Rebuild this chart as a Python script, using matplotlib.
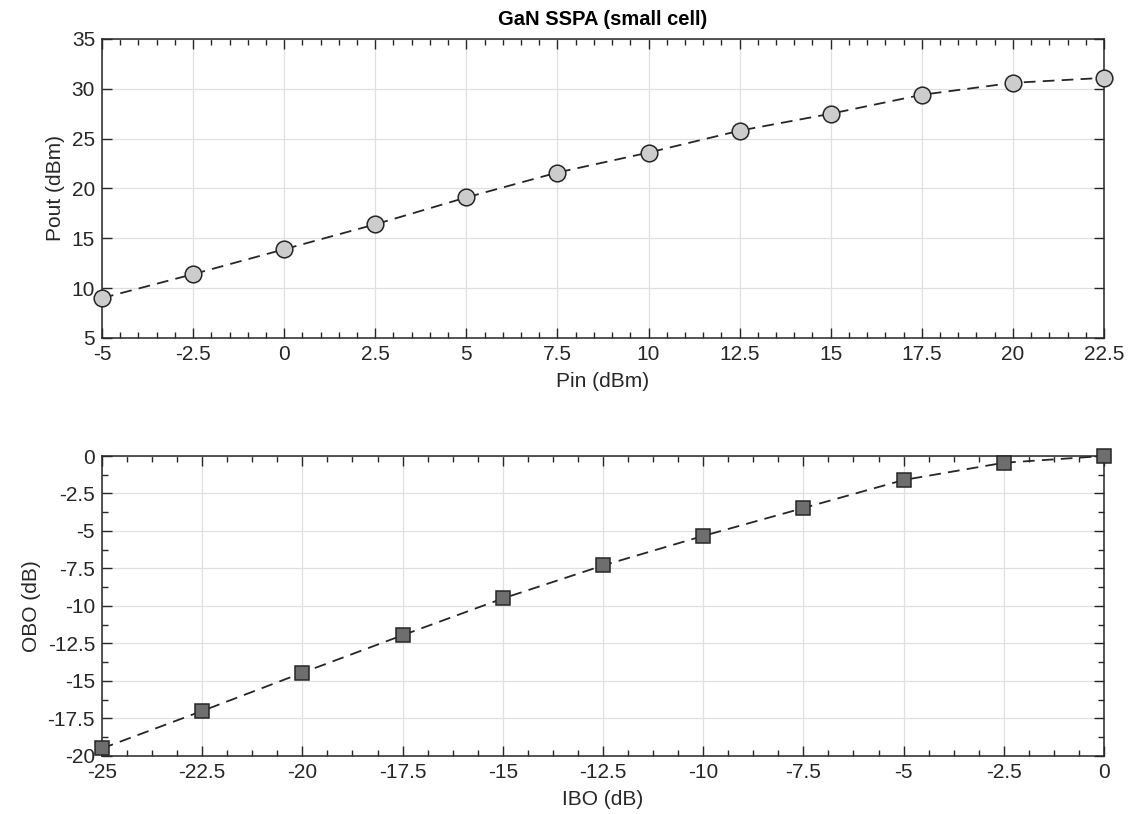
import numpy as np
import matplotlib.pyplot as plt
from matplotlib.ticker import MultipleLocator

plt.rcParams['font.family'] = ['Liberation Sans', 'DejaVu Sans']

pin = [-5, -2.5, 0, 2.5, 5, 7.5, 10, 12.5, 15, 17.5, 20, 22.5]
pout = [9.0, 11.4, 13.9, 16.4, 19.1, 21.6, 23.6, 25.8, 27.5, 29.4, 30.6, 31.1]

ibo = [-25, -22.5, -20, -17.5, -15, -12.5, -10, -7.5, -5, -2.5, 0]
obo = [-19.5, -17.0, -14.45, -11.95, -9.5, -7.3, -5.33, -3.47, -1.6, -0.45, 0.0]

fig = plt.figure(figsize=(11.33, 8.14), dpi=100)
ax1 = fig.add_axes([0.09, 0.5848, 0.8844, 0.3673])
ax2 = fig.add_axes([0.09, 0.0713, 0.8844, 0.3685])


def style(ax):
    ax.grid(True, which='major', color='#e0e0e0', linewidth=0.9)
    ax.set_axisbelow(True)
    ax.tick_params(which='both', direction='in', top=True, right=True,
                   labelsize=15, colors='#262626', pad=5)
    ax.tick_params(which='major', length=7, width=1)
    ax.tick_params(which='minor', length=4, width=1)
    for s in ax.spines.values():
        s.set_color('#262626')
        s.set_linewidth(1.1)


ax1.plot(pin, pout, '--', color='#262626', linewidth=1.3, dashes=(6.5, 4),
         marker='o', markersize=12, markerfacecolor='#cccccc',
         markeredgecolor='#262626', markeredgewidth=1.1, clip_on=False, zorder=3)
ax1.set_xlim(-5, 22.5)
ax1.set_ylim(5, 35)
ax1.set_xticks(pin)
ax1.set_xticklabels([f'{v:g}' for v in pin])
ax1.xaxis.set_minor_locator(MultipleLocator(0.5))
ax1.yaxis.set_major_locator(MultipleLocator(5))
ax1.set_xlabel('Pin (dBm)', fontsize=15, color='#262626', labelpad=6)
ax1.set_ylabel('Pout (dBm)', fontsize=15, color='#262626', labelpad=5)
ax1.set_title('GaN SSPA (small cell)', fontsize=14.5, fontweight='bold', pad=10)
style(ax1)

ax2.plot(ibo, obo, '--', color='#262626', linewidth=1.3, dashes=(6.5, 4),
         marker='s', markersize=9.5, markerfacecolor='#6e6e6e',
         markeredgecolor='#262626', markeredgewidth=1.1, clip_on=False, zorder=3)
ax2.set_xlim(-25, 0)
ax2.set_ylim(-20, 0)
ax2.set_xticks(ibo)
ax2.set_xticklabels([f'{v:g}' for v in ibo])
ax2.xaxis.set_minor_locator(MultipleLocator(0.625))
ax2.yaxis.set_major_locator(MultipleLocator(2.5))
ax2.yaxis.set_minor_locator(MultipleLocator(1.25))
ax2.yaxis.set_major_formatter(plt.FuncFormatter(lambda v, p: f'{v:g}'))
ax2.set_xlabel('IBO (dB)', fontsize=15, color='#262626', labelpad=6)
ax2.set_ylabel('OBO (dB)', fontsize=15, color='#262626', labelpad=5)
style(ax2)

fig.savefig('out.png', dpi=100, facecolor='white')
